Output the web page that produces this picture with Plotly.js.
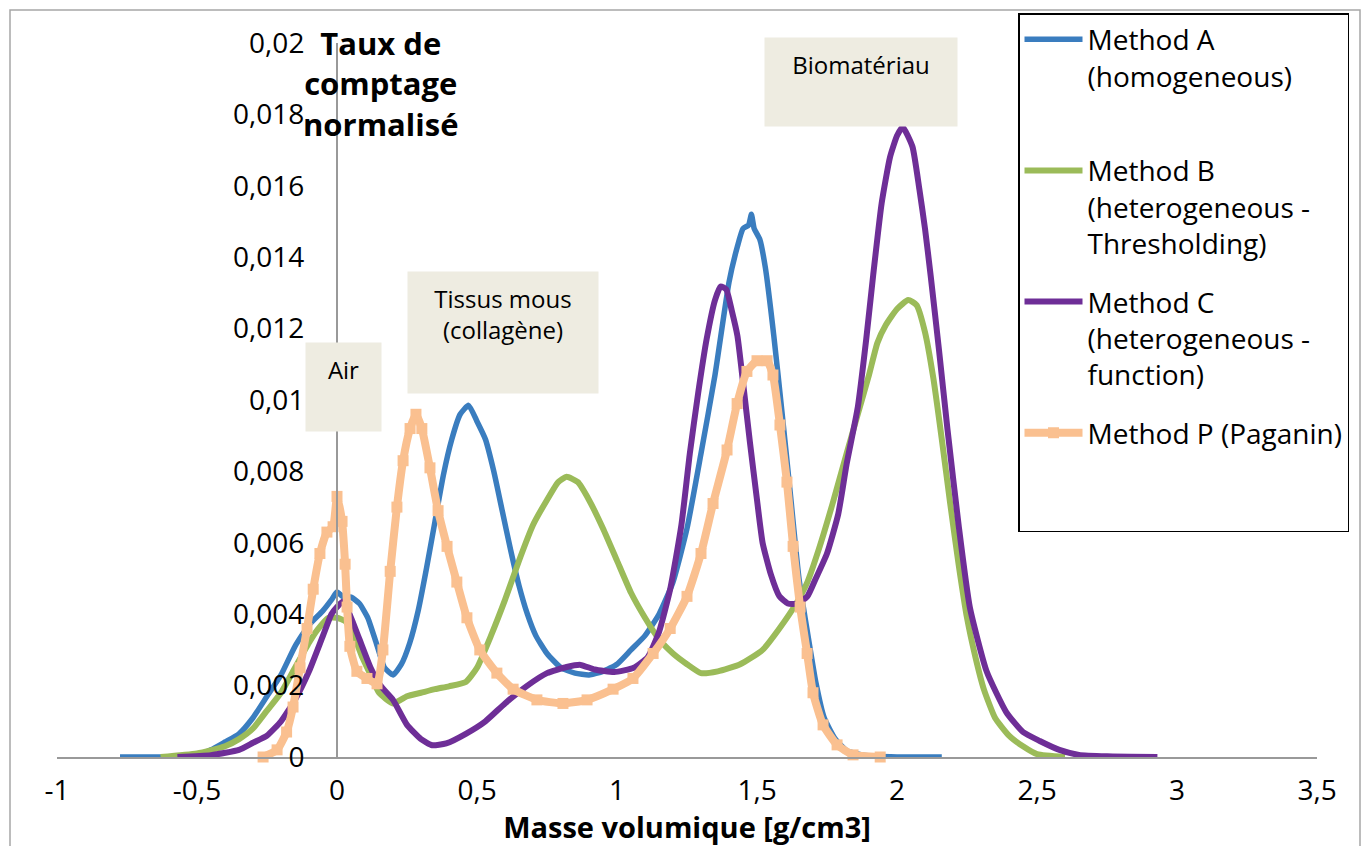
<!DOCTYPE html>
<html>
<head>
<meta charset="utf-8">
<script src="https://cdn.plot.ly/plotly-3.0.1.min.js"></script>
<style>html,body{margin:0;padding:0;background:#fff;}#chart{width:1363px;height:846px;}</style>
</head>
<body>
<div id="chart"></div>
<script>
// ---- Data ----
const seriesNames = [
  'Method A<br>(homogeneous)<br> ',
  'Method B<br>(heterogeneous -<br>Thresholding)',
  'Method C<br>(heterogeneous -<br>function)',
  'Method P (Paganin)<br> <br> '
];

const xA = [-0.775,-0.6,-0.5,-0.45,-0.4,-0.35,-0.3,-0.25,-0.2,-0.15,-0.1,-0.05,-0.02,0,0.02,0.05,0.08,0.11,0.14,0.17,0.2,0.23,0.26,0.29,0.32,0.35,0.38,0.41,0.44,0.47,0.5,0.53,0.56,0.59,0.62,0.65,0.68,0.71,0.75,0.8,0.85,0.9,0.95,1.0,1.05,1.1,1.15,1.2,1.25,1.3,1.35,1.4,1.43,1.45,1.47,1.48,1.49,1.51,1.53,1.56,1.59,1.62,1.65,1.68,1.71,1.74,1.78,1.82,1.88,2.0,2.16];
const yA = [0,0,0.00005,0.0002,0.00042,0.00065,0.0011,0.0017,0.0023,0.0031,0.0037,0.0041,0.0044,0.00462,0.0045,0.00448,0.0043,0.0039,0.0032,0.0025,0.0023,0.0026,0.0032,0.0041,0.0053,0.0066,0.0079,0.0089,0.0096,0.00985,0.0094,0.0089,0.0080,0.0069,0.0058,0.0048,0.0040,0.0034,0.0029,0.0025,0.00235,0.0023,0.0024,0.0026,0.0030,0.0034,0.0040,0.0049,0.0064,0.0085,0.0107,0.0133,0.0143,0.0148,0.0149,0.0152,0.0148,0.0145,0.0137,0.0118,0.0096,0.0073,0.0050,0.0035,0.0021,0.0011,0.0005,0.00018,0.00005,0,0];

const xB = [-0.63,-0.5,-0.4,-0.35,-0.3,-0.25,-0.2,-0.15,-0.1,-0.07,-0.03,0,0.03,0.06,0.09,0.12,0.15,0.2,0.25,0.3,0.35,0.4,0.46,0.5,0.55,0.6,0.65,0.7,0.75,0.79,0.82,0.86,0.9,0.95,1.0,1.05,1.1,1.15,1.2,1.25,1.3,1.36,1.44,1.52,1.58,1.64,1.68,1.72,1.77,1.82,1.86,1.9,1.93,1.96,2.0,2.04,2.07,2.1,2.13,2.16,2.19,2.22,2.25,2.28,2.31,2.35,2.4,2.45,2.5,2.6];
const yB = [0,0.0001,0.0003,0.0005,0.0008,0.0013,0.0018,0.0025,0.0032,0.00356,0.0039,0.0039,0.0038,0.0034,0.0028,0.0023,0.0018,0.0015,0.0017,0.0018,0.0019,0.00198,0.0021,0.0025,0.0034,0.0044,0.0055,0.0065,0.0072,0.0077,0.00785,0.0077,0.0072,0.0064,0.0055,0.0046,0.0039,0.0033,0.0029,0.0026,0.00235,0.0024,0.0026,0.0030,0.0036,0.0043,0.0049,0.0058,0.0071,0.0085,0.0096,0.0107,0.0116,0.0121,0.01255,0.0128,0.01266,0.0119,0.0106,0.0089,0.0071,0.0054,0.0039,0.0028,0.0019,0.0011,0.0006,0.0003,0.00008,0];

const xC = [-0.57,-0.45,-0.35,-0.3,-0.25,-0.2,-0.15,-0.1,-0.05,-0.02,0,0.02,0.045,0.08,0.12,0.155,0.2,0.25,0.3,0.34,0.39,0.46,0.53,0.6,0.68,0.75,0.82,0.87,0.92,0.99,1.06,1.11,1.15,1.19,1.23,1.26,1.29,1.32,1.35,1.37,1.39,1.41,1.43,1.45,1.475,1.5,1.52,1.55,1.58,1.61,1.645,1.68,1.71,1.75,1.79,1.82,1.86,1.89,1.915,1.945,1.975,2.0,2.02,2.055,2.08,2.1,2.12,2.15,2.18,2.22,2.26,2.32,2.39,2.45,2.51,2.58,2.65,2.75,2.93];
const yC = [0,0.00005,0.0002,0.0004,0.0006,0.001,0.0016,0.0024,0.0034,0.0040,0.0042,0.00435,0.0040,0.0033,0.0025,0.0020,0.0016,0.0009,0.0005,0.00033,0.00038,0.00065,0.0010,0.0015,0.0020,0.00235,0.00252,0.00258,0.00245,0.00238,0.0025,0.0028,0.0035,0.0047,0.0065,0.0085,0.0102,0.0117,0.0128,0.01318,0.0131,0.0125,0.0118,0.0105,0.0088,0.0072,0.0060,0.0051,0.0045,0.0043,0.0043,0.0045,0.0050,0.0057,0.0068,0.0082,0.0098,0.0117,0.0135,0.0155,0.0168,0.0174,0.01765,0.0171,0.0159,0.0148,0.0135,0.0114,0.0092,0.0065,0.0042,0.0024,0.00126,0.0007,0.00045,0.0002,0.00006,0.00002,0];

const xP = [-0.264,-0.214,-0.18,-0.157,-0.132,-0.107,-0.085,-0.061,-0.036,-0.014,0,0.018,0.029,0.036,0.046,0.071,0.107,0.143,0.164,0.19,0.214,0.236,0.261,0.282,0.303,0.332,0.361,0.393,0.428,0.464,0.51,0.571,0.629,0.714,0.807,0.893,0.986,1.057,1.129,1.19,1.25,1.3,1.343,1.393,1.429,1.464,1.5,1.536,1.557,1.582,1.607,1.629,1.654,1.679,1.7,1.736,1.786,1.843,1.94];
const yP = [0,0.0002,0.0007,0.0014,0.0025,0.0036,0.0047,0.0057,0.0063,0.00645,0.0073,0.0066,0.0054,0.0042,0.0031,0.0024,0.0022,0.00205,0.0030,0.0052,0.0070,0.0083,0.0092,0.0096,0.0092,0.0081,0.0069,0.0059,0.0049,0.0039,0.0030,0.00235,0.0019,0.0016,0.0015,0.0016,0.0019,0.0022,0.0029,0.0036,0.0045,0.0057,0.0071,0.0086,0.0099,0.0108,0.0111,0.0111,0.0107,0.0093,0.0077,0.0059,0.0042,0.0029,0.0018,0.0009,0.00034,0.00006,0];

const xTickVals = [-1,-0.5,0,0.5,1,1.5,2,2.5,3,3.5];
const xTickText = ['-1','-0,5','0','0,5','1','1,5','2','2,5','3','3,5'];
const yTickVals = [0,0.002,0.004,0.006,0.008,0.01,0.012,0.014,0.016,0.018,0.02];
const yTickText = ['0','0,002','0,004','0,006','0,008','0,01','0,012','0,014','0,016','0,018','0,02'];

const xTitle = 'Masse volumique [g/cm3]';
const yTitle = 'Taux de<br>comptage<br>normalisé';
const regionLabels = ['Air', 'Tissus mous<br>(collagène)', 'Biomatériau'];
const regionX = [0.023, 0.593, 1.871];
const regionY = [0.01036, 0.01189, 0.01891];

// ---- Styles ----
const FONT = '"Open Sans", Lato, sans-serif';
const colors = ['#3A7DBF', '#9BBB59', '#6E2E97', '#FAC090'];
const widths = [5.5, 6, 6, 8];

const xs = [xA, xB, xC, xP];
const ys = [yA, yB, yC, yP];
const traces = xs.map((x, i) => {
  const t = {
    type: 'scatter',
    mode: 'lines',
    x: x, y: ys[i],
    name: seriesNames[i],
    legendgroup: 'g' + i,
    line: {color: colors[i], width: widths[i], shape: 'spline', smoothing: 0.5},
    cliponaxis: false
  };
  if (i === 3) {
    t.mode = 'lines+markers';
    t.marker = {symbol: 'square', size: 11, color: colors[i]};
  }
  return t;
});

const PAD = 10;
const boxW = [75, 190, 192];
const boxH = [88, 121, 88];
const annotations = regionLabels.map((t, i) => ({
  text: t, x: regionX[i], y: regionY[i], xref: 'x', yref: 'y',
  showarrow: false, bgcolor: '#EEECE1', width: boxW[i] - 2*PAD, height: boxH[i] - 2*PAD,
  valign: 'top', align: 'center', borderpad: PAD,
  font: {family: FONT, size: 24, color: '#000'}
}));
annotations.push({
  text: '<b>' + yTitle + '</b>', x: 0.157, y: 0.01887, xref: 'x', yref: 'y',
  showarrow: false, align: 'center', font: {family: FONT, size: 31, color: '#000'}
});

const layout = {
  width: 1363, height: 846,
  margin: {l: 57, r: 46, t: 43, b: 89},
  paper_bgcolor: '#fff', plot_bgcolor: '#fff',
  font: {family: FONT, color: '#000'},
  separators: ', ',
  showlegend: true,
  xaxis: {
    range: [-1, 3.5], tickvals: xTickVals, ticktext: xTickText,
    showgrid: false, zeroline: false, showline: true, linecolor: '#999', linewidth: 2,
    ticks: '', ticklabelstandoff: 7, tickfont: {family: FONT, size: 28, color: '#000'},
    title: {text: '<b>' + xTitle + '</b>', font: {family: FONT, size: 29, color: '#000'}, standoff: 12},
    automargin: false
  },
  yaxis: {
    range: [0, 0.02], tickvals: yTickVals, ticktext: yTickText,
    anchor: 'free', position: 280/1260,
    showgrid: false, zeroline: false, showline: true, linecolor: '#999', linewidth: 2,
    ticks: '', ticklabelstandoff: 26, tickfont: {family: FONT, size: 28, color: '#000'},
    automargin: false
  },
  legend: {
    x: (1018-57)/1260, y: (757-13)/714, xanchor: 'left', yanchor: 'top',
    bgcolor: '#fff', bordercolor: '#000', borderwidth: 1.5,
    font: {family: FONT, size: 28, color: '#000'},
    valign: 'top', tracegroupgap: 19, traceorder: 'grouped', itemwidth: 58,
    maxheight: 1
  },
  annotations: annotations,
  shapes: [{
    type: 'rect', xref: 'paper', yref: 'paper',
    x0: (10-57)/1260, x1: (1360-57)/1260, y0: (757-880)/714, y1: (757-10)/714,
    line: {color: '#A6A6A6', width: 1.5}, fillcolor: 'rgba(0,0,0,0)', layer: 'below'
  }]
};

Plotly.newPlot('chart', traces, layout, {displayModeBar: false, staticPlot: true});
</script>
</body>
</html>
